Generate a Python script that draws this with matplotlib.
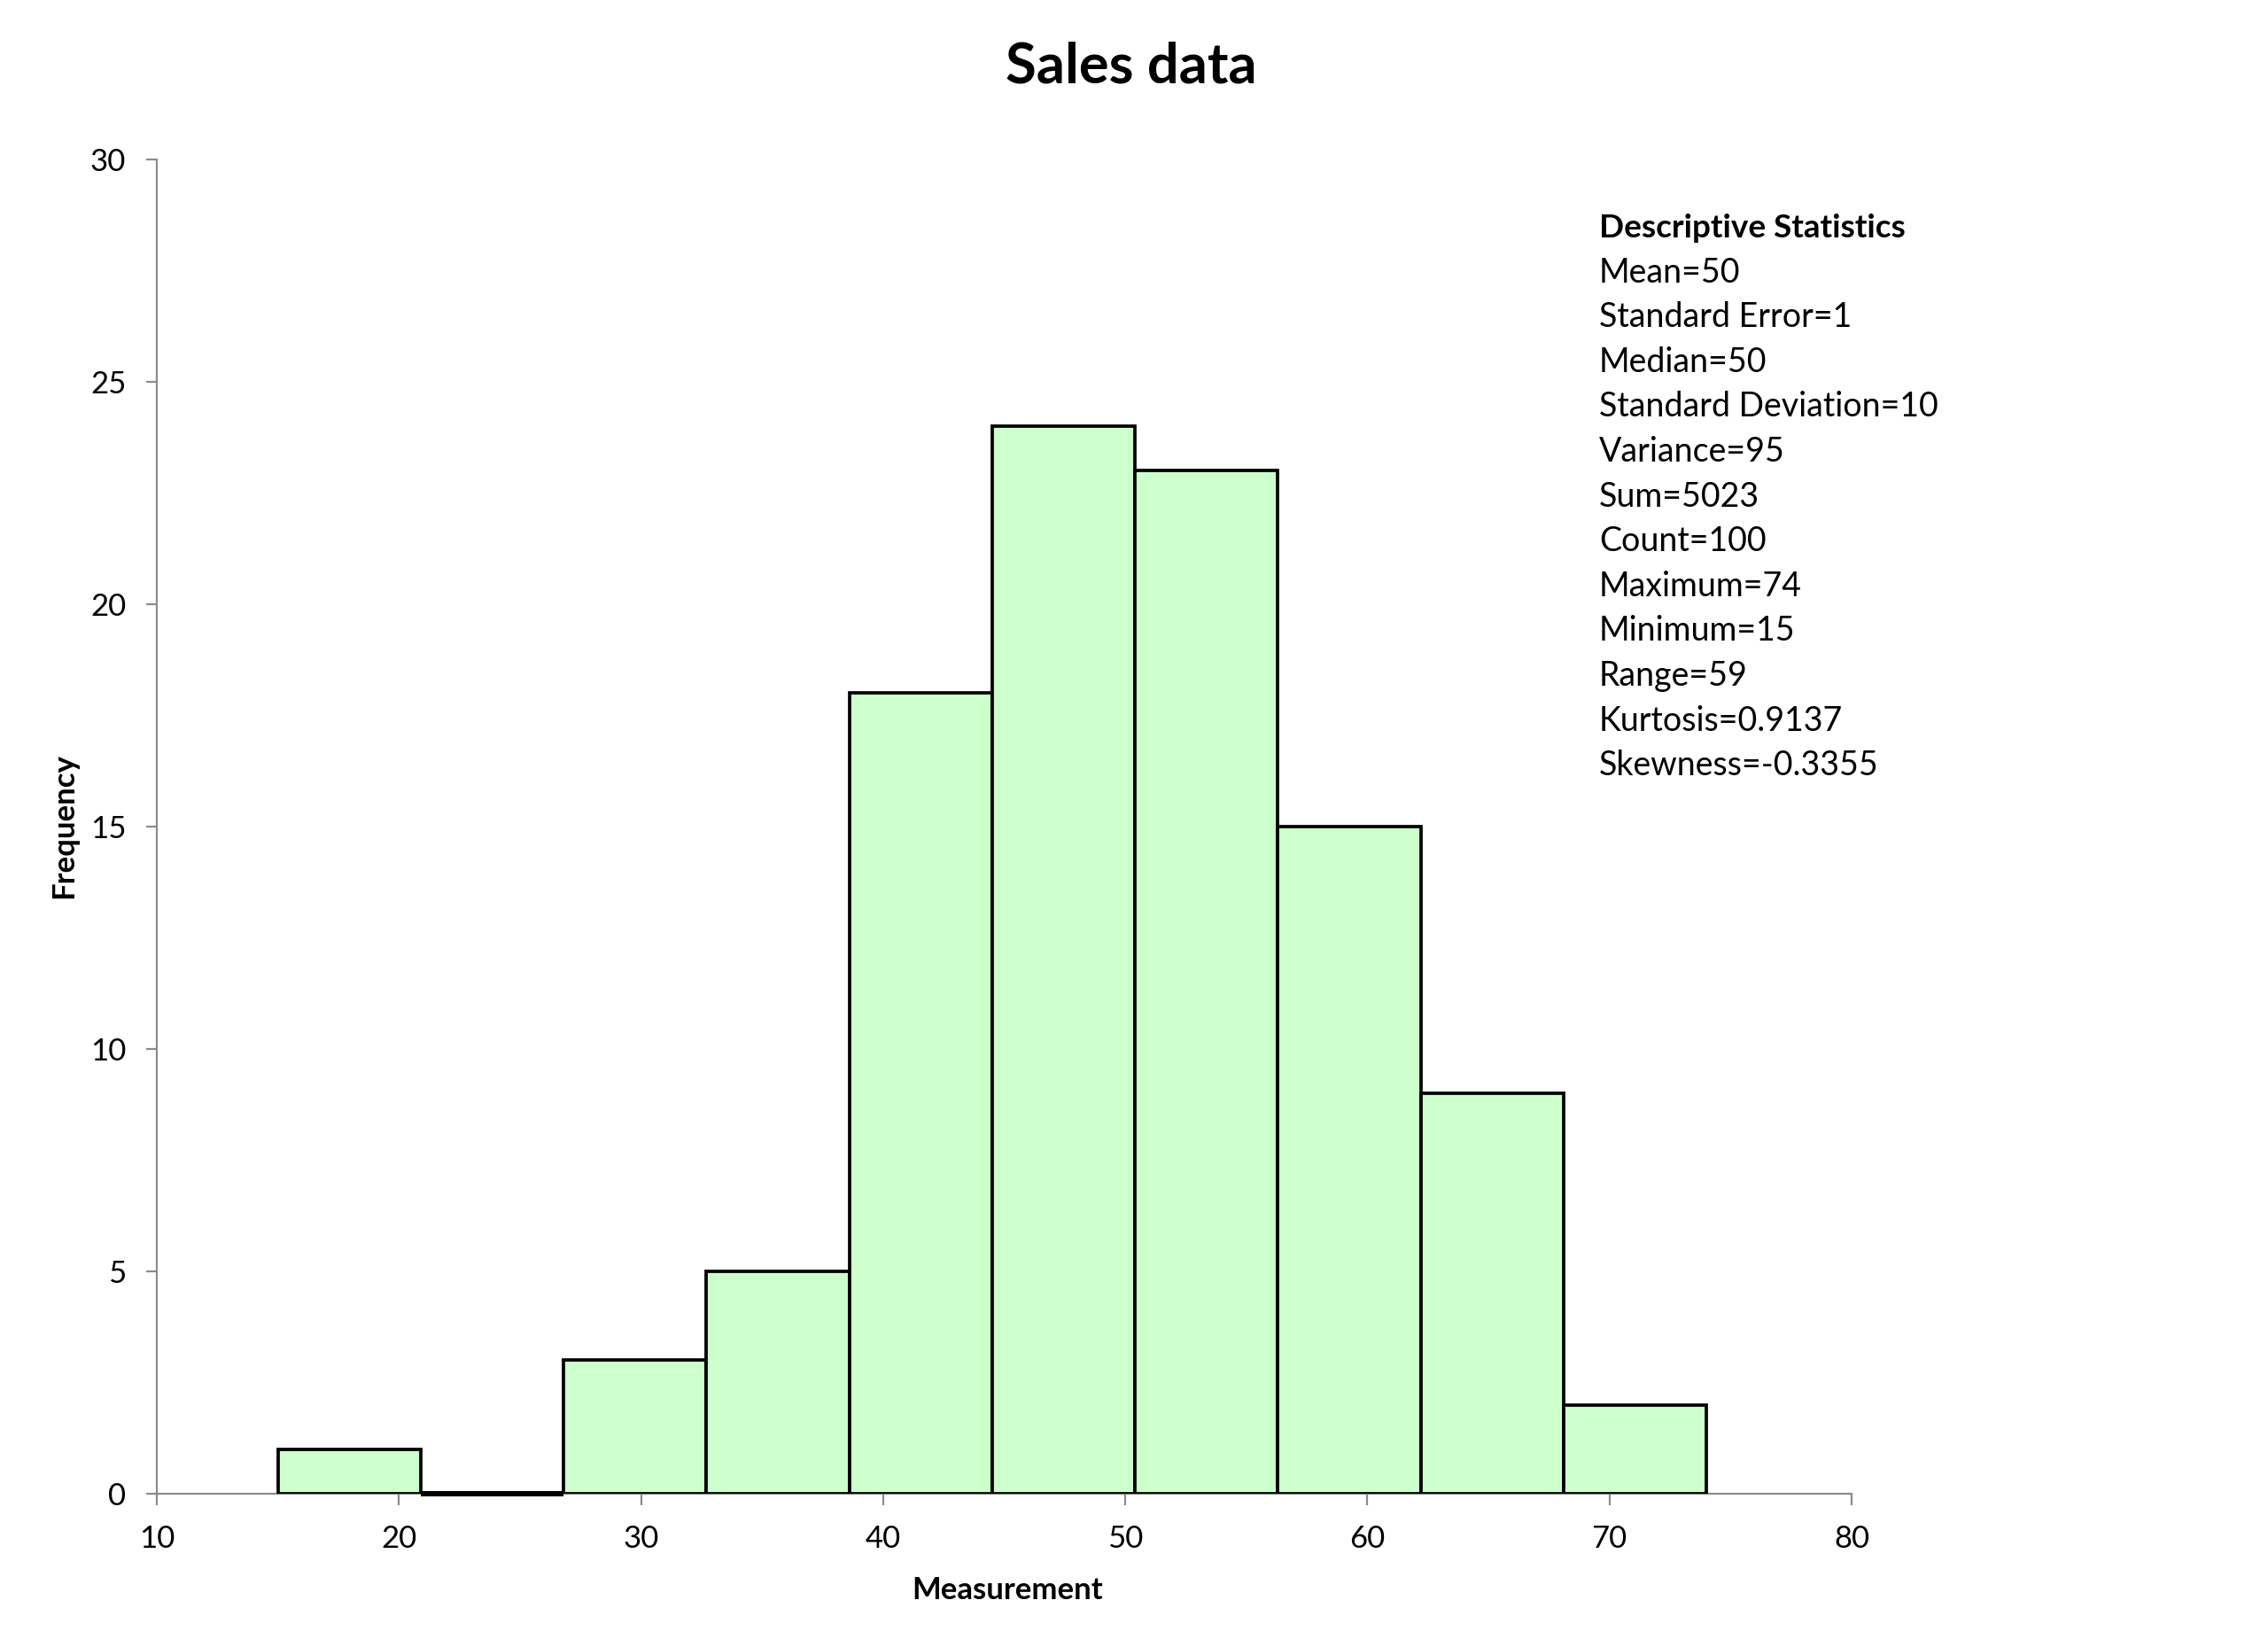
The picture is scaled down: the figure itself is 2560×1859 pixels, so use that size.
import matplotlib
matplotlib.use("Agg")
import matplotlib.pyplot as plt
import numpy as np

# ---- data ----
bin_edges = [15.0, 20.9, 26.8, 32.7, 38.6, 44.5, 50.4, 56.3, 62.2, 68.1, 74.0]
counts = [1, 0, 3, 5, 18, 24, 23, 15, 9, 2]
x_ticks = [10, 20, 30, 40, 50, 60, 70, 80]
y_ticks = [0, 5, 10, 15, 20, 25, 30]
title = "Sales data"
x_label = "Measurement"
y_label = "Frequency"
stats_title = "Descriptive Statistics"
stats_names = ["Mean", "Standard Error", "Median", "Standard Deviation", "Variance",
               "Sum", "Count", "Maximum", "Minimum", "Range", "Kurtosis", "Skewness"]
stats_values = ["50", "1", "50", "10", "95", "5023", "100", "74", "15", "59", "0.9137", "-0.3355"]

FONT = ["Lato", "DejaVu Sans"]
plt.rcParams['font.family'] = FONT

W, H, DPI = 2560, 1859, 200
fig = plt.figure(figsize=(W / DPI, H / DPI), dpi=DPI)
fig.patch.set_facecolor("white")

# axes in pixel coords
left_px, right_px, top_px, bottom_px = 177, 2090, 180, 1686
ax = fig.add_axes([left_px / W, 1 - bottom_px / H, (right_px - left_px) / W, (bottom_px - top_px) / H])

edges = np.array(bin_edges)
cnt = np.array(counts)
widths = np.diff(edges)
LW = 1.35
ax.bar(edges[:-1], cnt, width=widths, align="edge", color="#CCFFCC",
       edgecolor="black", linewidth=LW, zorder=3)
# zero-height bins are drawn as a flat outline on the baseline
for i in np.where(cnt == 0)[0]:
    ax.plot([edges[i], edges[i + 1]], [0, 0], color="black", linewidth=LW * 1.6,
            solid_capstyle="butt", zorder=4, clip_on=False)

ax.set_xlim(10, 80)
ax.set_ylim(0, 30)
ax.set_xticks(x_ticks)
ax.set_yticks(y_ticks)

for s in ["top", "right"]:
    ax.spines[s].set_visible(False)
for s in ["left", "bottom"]:
    ax.spines[s].set_color("#8c8c8c")
    ax.spines[s].set_linewidth(0.8)
    ax.spines[s].set_zorder(2)

ax.tick_params(axis="both", direction="out", length=4.5, width=0.8, color="#8c8c8c",
               labelsize=12.5, labelcolor="black")
ax.tick_params(axis="x", pad=8)
ax.tick_params(axis="y", pad=8)

fig.text(1277 / W, 1 - 76 / H, title, ha="center", va="center", fontsize=22.8, fontweight="bold")
fig.text(1137 / W, 1 - 1795 / H, x_label, ha="center", va="center", fontsize=12.5, fontweight="bold")
fig.text(72 / W, 1 - 932 / H, y_label, ha="center", va="center", fontsize=12.5, fontweight="bold",
         rotation=90)

x0 = 1805 / W
y0 = 257
step = 50.6
fig.text(x0, 1 - y0 / H, stats_title, ha="left", va="center", fontsize=13.3, fontweight="bold")
for i, (n, v) in enumerate(zip(stats_names, stats_values)):
    fig.text(x0, 1 - (y0 + step * (i + 1)) / H, f"{n}={v}", ha="left", va="center", fontsize=13.5)

fig.savefig("out.png", dpi=DPI, facecolor="white")
